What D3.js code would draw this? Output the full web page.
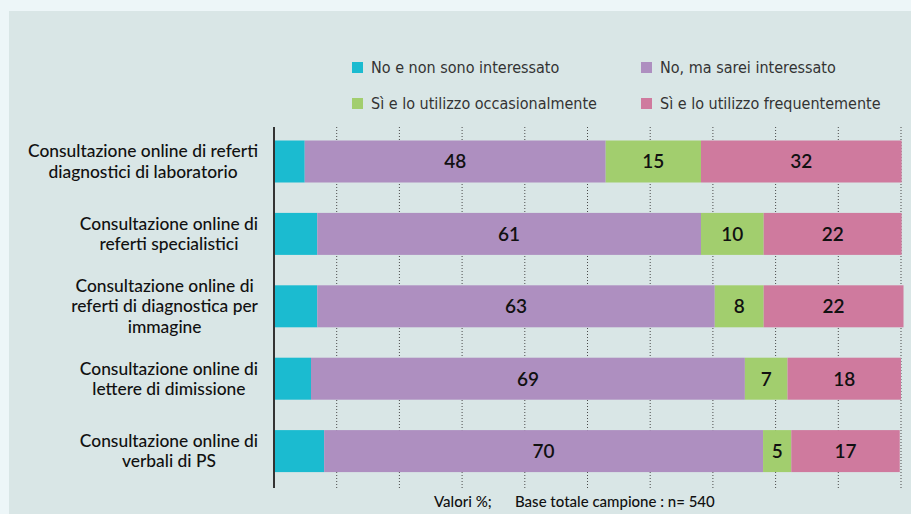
<!DOCTYPE html>
<html>
<head>
<meta charset="utf-8">
<script src="https://cdn.jsdelivr.net/npm/d3@7"></script>
<style>
  html, body { margin: 0; padding: 0; background: #edf6f8; }
  svg { display: block; }
</style>
</head>
<body>
<svg id="chart" width="911" height="514"></svg>
<script>
// ---- data ----
const categories = [
  "Consultazione online di referti\ndiagnostici di laboratorio",
  "Consultazione online di\nreferti specialistici",
  "Consultazione online di\nreferti di diagnostica per\nimmagine",
  "Consultazione online di\nlettere di dimissione",
  "Consultazione online di\nverbali di PS"
];
const seriesNames = [
  "No e non sono interessato",
  "No, ma sarei interessato",
  "Sì e lo utilizzo occasionalmente",
  "Sì e lo utilizzo frequentemente"
];
const noNonInteressato   = [4.9, 6.9, 6.9, 5.9, 8.0];
const noMaInteressato    = [48.0, 61.2, 63.4, 69.2, 70.0];
const siOccasionalmente  = [15.2, 10.0, 7.8, 6.8, 4.5];
const siFrequentemente   = [32.0, 22.0, 22.3, 18.1, 17.3];
const showLabel = [false, true, true, true];
const xTicks = [10, 20, 30, 40, 50, 60, 70, 80, 90, 100];
const footnote1 = "Valori %;";
const footnote2 = "Base totale campione : n= 540";

const colors = ["#1bbbd0", "#ae8fc0", "#a2ce6e", "#cf7a9e"];
const seriesValues = [noNonInteressato, noMaInteressato, siOccasionalmente, siFrequentemente];

const rows = categories.map((c, i) => {
  const r = { cat: c };
  seriesNames.forEach((s, j) => r[s] = seriesValues[j][i]);
  return r;
});
const stacked = d3.stack().keys(seriesNames)(rows);

const svg = d3.select("#chart");

// panel
svg.append("rect").attr("x", 9).attr("y", 11).attr("width", 911).attr("height", 514)
  .attr("fill", "#d9e6e6");

const x = d3.scaleLinear().domain([0, 100]).range([274, 901]);
const y = d3.scaleBand().domain(categories).range([125.3, 487.3])
  .paddingInner(0.42).paddingOuter(0.21);

// gridlines
svg.append("g").selectAll("line").data(xTicks).join("line")
  .attr("x1", d => x(d)).attr("x2", d => x(d))
  .attr("y1", 127).attr("y2", 488)
  .attr("stroke", "#4a4a4a").attr("stroke-width", 1)
  .attr("stroke-dasharray", "1,2");

// bars
const g = svg.append("g");
stacked.forEach((layer, j) => {
  g.append("g").selectAll("rect").data(layer).join("rect")
    .attr("x", d => x(d[0]))
    .attr("y", d => y(d.data.cat))
    .attr("width", d => x(d[1]) - x(d[0]))
    .attr("height", y.bandwidth())
    .attr("fill", colors[j]);
});

// value labels
stacked.forEach((layer, j) => {
  if (!showLabel[j]) return;
  g.append("g").selectAll("text").data(layer).join("text")
    .attr("x", d => (x(d[0]) + x(d[1])) / 2)
    .attr("y", d => y(d.data.cat) + y.bandwidth() / 2)
    .attr("dy", "0.36em")
    .attr("text-anchor", "middle")
    .attr("font-family", "Lato, 'DejaVu Sans', sans-serif")
    .attr("font-size", 19)
    .attr("font-weight", 600)
    .attr("fill", "#111")
    .text(d => Math.round(d[1] - d[0]));
});

// axis line
svg.append("line").attr("x1", x(0)).attr("x2", x(0)).attr("y1", 127).attr("y2", 488)
  .attr("stroke", "#333").attr("stroke-width", 2);

// category labels
const labelRight = 258;
const lineH = 20.5;
categories.forEach(c => {
  const lines = c.split("\n");
  const cy = y(c) + y.bandwidth() / 2;
  const t = svg.append("text")
    .attr("font-family", "Lato, 'DejaVu Sans', sans-serif")
    .attr("font-size", 17.4)
    .attr("font-weight", 500)
    .attr("fill", "#111")
    .attr("text-anchor", "middle");
  const spans = lines.map((l, k) => t.append("tspan")
    .attr("y", cy + (k - (lines.length - 1) / 2) * lineH)
    .attr("dy", "0.35em").text(l));
  const maxW = d3.max(spans, s => s.node().getComputedTextLength());
  spans.forEach(s => s.attr("x", labelRight - maxW / 2));
});

// legend
const legendPos = [[352, 62], [641, 62], [352, 98], [641, 98]];
seriesNames.forEach((s, j) => {
  const [lx, ly] = legendPos[j];
  svg.append("rect").attr("x", lx).attr("y", ly).attr("width", 11).attr("height", 11)
    .attr("fill", colors[j]);
  svg.append("text").attr("x", lx + 19).attr("y", ly + 5.5).attr("dy", "0.36em")
    .attr("font-family", "'DejaVu Sans Condensed', 'Liberation Sans Narrow', sans-serif")
    .attr("font-stretch", "condensed")
    .attr("font-size", 16)
    .attr("fill", "#333")
    .text(s);
});

// footnote
svg.append("text").attr("x", 434).attr("y", 502).attr("dy", "0.35em")
  .attr("font-family", "Lato, 'DejaVu Sans', sans-serif").attr("font-size", 15)
  .attr("font-weight", 500).attr("fill", "#111").text(footnote1);
svg.append("text").attr("x", 515).attr("y", 502).attr("dy", "0.35em")
  .attr("font-family", "Lato, 'DejaVu Sans', sans-serif").attr("font-size", 15)
  .attr("font-weight", 500).attr("fill", "#111").text(footnote2);
</script>
</body>
</html>
